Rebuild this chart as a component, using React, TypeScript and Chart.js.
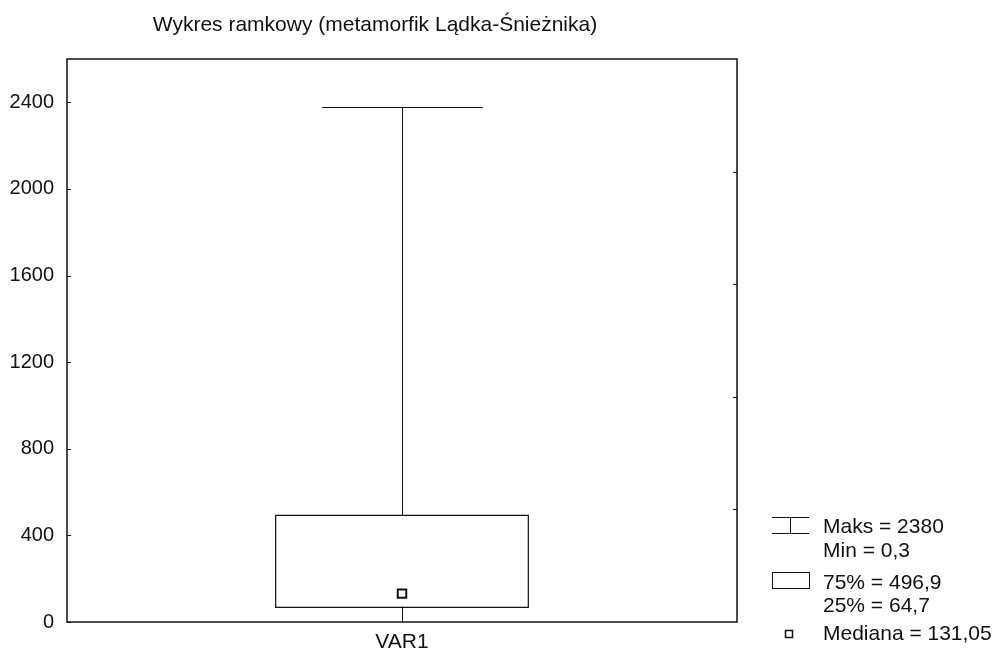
import React, { useEffect, useRef } from "react";
import { Chart, registerables } from "chart.js";

Chart.register(...registerables);

const TITLE = "Wykres ramkowy (metamorfik Lądka-Śnieżnika)";
const CATEGORIES = ["VAR1"];
const MAX_VALUES = [2380];
const MIN_VALUES = [0.3];
const Q3_VALUES = [496.9];
const Q1_VALUES = [64.7];
const MEDIAN_VALUES = [131.05];
const Y_TICKS = [0, 400, 800, 1200, 1600, 2000, 2400];
const Y_MAX = 2600;
const RIGHT_DIVISIONS = 5;

const FONT = "'Liberation Sans', Arial, sans-serif";
const INK = "#111";

const fmt = (v: number) => String(v).replace(".", ",");

const boxPlugin = {
  id: "boxExtras",
  beforeDatasetsDraw(chart: any) {
    const { ctx, scales } = chart;
    const x = scales.x;
    const y = scales.y;
    ctx.save();
    ctx.strokeStyle = INK;
    ctx.lineWidth = 1;
    CATEGORIES.forEach((_, i) => {
      const cx = Math.round(x.getPixelForValue(i)) + 0.5;
      const capHalf = (x.width / CATEGORIES.length) * 0.12;
      const yMax = Math.round(y.getPixelForValue(MAX_VALUES[i])) + 0.5;
      const yMin = Math.round(y.getPixelForValue(MIN_VALUES[i])) + 0.5;
      ctx.beginPath();
      ctx.moveTo(cx, yMax);
      ctx.lineTo(cx, yMin);
      ctx.moveTo(cx - capHalf, yMax);
      ctx.lineTo(cx + capHalf, yMax);
      ctx.stroke();
    });
    ctx.restore();
  },
  afterDraw(chart: any) {
    const { ctx, chartArea, scales } = chart;
    const { left, right, top, bottom } = chartArea;
    ctx.save();
    // frame
    ctx.strokeStyle = INK;
    ctx.lineWidth = 1.5;
    ctx.strokeRect(left, top, right - left, bottom - top);
    // left ticks (inward)
    ctx.lineWidth = 1;
    Y_TICKS.forEach((v) => {
      const py = Math.round(scales.y.getPixelForValue(v)) + 0.5;
      ctx.beginPath();
      ctx.moveTo(left, py);
      ctx.lineTo(left + 4, py);
      ctx.stroke();
    });
    // right ticks (inward)
    for (let k = 1; k < RIGHT_DIVISIONS; k++) {
      const py = Math.round(scales.y2.getPixelForValue(k)) + 0.5;
      ctx.beginPath();
      ctx.moveTo(right - 4, py);
      ctx.lineTo(right, py);
      ctx.stroke();
    }
    // title
    ctx.fillStyle = INK;
    ctx.font = `21px ${FONT}`;
    ctx.textAlign = "center";
    ctx.textBaseline = "middle";
    ctx.fillText(TITLE, 375, 25);

    // legend
    const lx = 772;
    const tx = 823;
    ctx.font = `21px ${FONT}`;
    ctx.textAlign = "left";
    ctx.lineWidth = 1;
    // whisker symbol
    ctx.beginPath();
    ctx.moveTo(lx, 517.5);
    ctx.lineTo(lx + 37, 517.5);
    ctx.moveTo(lx, 533.5);
    ctx.lineTo(lx + 37, 533.5);
    ctx.moveTo(790.5, 517.5);
    ctx.lineTo(790.5, 533.5);
    ctx.stroke();
    ctx.fillText(`Maks = ${fmt(MAX_VALUES[0])}`, tx, 527);
    ctx.fillText(`Min = ${fmt(MIN_VALUES[0])}`, tx, 551);
    // box symbol
    ctx.strokeRect(lx + 0.5, 572.5, 37, 16);
    ctx.fillText(`75% = ${fmt(Q3_VALUES[0])}`, tx, 583);
    ctx.fillText(`25% = ${fmt(Q1_VALUES[0])}`, tx, 606);
    // median symbol
    ctx.lineWidth = 1.5;
    ctx.strokeRect(785.5, 630.5, 7, 7);
    ctx.fillText(`Mediana = ${fmt(MEDIAN_VALUES[0])}`, tx, 634);
    ctx.restore();
  },
};

export default function App() {
  const ref = useRef<HTMLCanvasElement | null>(null);

  useEffect(() => {
    if (!ref.current) return;
    const chart = new Chart(ref.current, {
      type: "bar",
      data: {
        labels: CATEGORIES,
        datasets: [
          {
            type: "bar",
            label: "box",
            order: 2,
            data: CATEGORIES.map((_, i) => [Q1_VALUES[i], Q3_VALUES[i]]) as any,
            backgroundColor: "#ffffff",
            borderColor: INK,
            borderWidth: 1.5,
            borderSkipped: false,
            barPercentage: 0.379,
            categoryPercentage: 1,
            yAxisID: "y",
          } as any,
          {
            type: "line",
            label: "median",
            order: 1,
            data: MEDIAN_VALUES,
            showLine: false,
            pointStyle: "rect",
            pointRadius: 6,
            pointBackgroundColor: "#ffffff",
            pointBorderColor: INK,
            pointBorderWidth: 2,
            yAxisID: "y",
          } as any,
        ],
      },
      options: {
        responsive: false,
        animation: false,
        layout: { padding: { top: 59, left: 0, right: 0, bottom: 0 } },
        plugins: {
          legend: { display: false },
          tooltip: { enabled: false },
          title: { display: false },
        },
        scales: {
          x: {
            grid: { display: false },
            border: { display: false },
            ticks: { font: { family: FONT, size: 21 }, color: INK, padding: 0 },
            afterFit: (s: any) => {
              s.height = 30;
            },
          },
          y: {
            type: "linear",
            position: "left",
            min: 0,
            max: Y_MAX,
            grid: { display: false },
            border: { display: false },
            ticks: {
              font: { family: FONT, size: 20 },
              color: INK,
              padding: 5,
              callback: (v: any) => String(v),
            },
            afterBuildTicks: (s: any) => {
              s.ticks = Y_TICKS.map((v) => ({ value: v }));
            },
            afterFit: (s: any) => {
              s.width = 67;
            },
          },
          y2: {
            type: "linear",
            position: "right",
            min: 0,
            max: RIGHT_DIVISIONS,
            grid: { display: false },
            border: { display: false },
            ticks: { display: false, stepSize: 1 },
            afterFit: (s: any) => {
              s.width = 257;
            },
          },
        },
      } as any,
      plugins: [boxPlugin],
    });
    return () => chart.destroy();
  }, []);

  return (
    <div style={{ position: "fixed", left: 0, top: 0, width: 994, height: 652, background: "#fff" }}>
      <canvas ref={ref} width={994} height={652} style={{ display: "block" }} />
    </div>
  );
}
